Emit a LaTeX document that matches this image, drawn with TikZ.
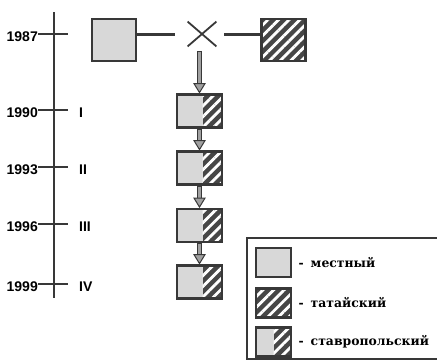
\documentclass[tikz,border=0pt]{standalone}
\usepackage{fontspec}
\setmainfont{Liberation Sans}
\newfontfamily\legfont{DejaVu Serif}
\usetikzlibrary{patterns.meta,shapes.misc,calc}
\definecolor{light}{HTML}{D8D8D8}
\definecolor{dark}{HTML}{464646}
\definecolor{bord}{HTML}{383838}
\definecolor{shaft}{HTML}{A0A0A0}
\tikzset{
  box/.style={draw=bord, line width=2.8pt, inner sep=0pt},
  mest/.style={box, fill=light},
  hatchfill/.style={pattern={Lines[angle=45,distance=7.5pt,line width=2.8pt]}, pattern color=white},
  tat/.style={box, preaction={fill=dark}, preaction={hatchfill}},
  stav/.style={box, fill=light, path picture={
      \fill[dark] ($(path picture bounding box.north)+(#1,0)$) rectangle (path picture bounding box.south east);
      \fill[hatchfill] ($(path picture bounding box.north)+(#1,0)$) rectangle (path picture bounding box.south east);}},
  stav/.default=0,
  bigbox/.style={minimum width=44pt, minimum height=42pt},
  stackbox/.style={minimum width=45pt, minimum height=33pt},
  legbox/.style={minimum width=35pt, minimum height=29pt},
  year/.style={font=\fontsize{14}{14}\selectfont\bfseries, inner sep=0pt, anchor=east},
  roman/.style={font=\fontsize{14}{14}\selectfont\bfseries, inner sep=0pt, anchor=west},
  leg/.style={font=\legfont\bfseries\fontsize{12.4}{13}\selectfont, inner sep=0pt, anchor=west},
  tline/.style={draw=bord, line width=2.8pt},
  tickline/.style={draw=bord, line width=2.8pt},
  joinline/.style={draw=bord, line width=3pt},
  shaftout/.style={draw=bord, line width=5pt},
  shaftin/.style={draw=shaft, line width=2.4pt},
  headst/.style={fill=shaft, draw=bord, line width=1pt, line join=miter},
  frame/.style={draw=bord, line width=1.5pt},
}
\newcommand\garrow[2]{%
  \draw[shaftout] (#1) -- ($(#2)+(0,-8)$);
  \draw[shaftin] ($(#1)+(0,1)$) -- ($(#2)+(0,-8)$);
  \filldraw[headst] ($(#2)+(0,-0.5)$) -- ++(-5.5,-9) -- ++(11,0) -- cycle;}
\begin{document}
\begin{tikzpicture}[x=1pt,y=-1pt]
\useasboundingbox (0,0) rectangle (437,362);
% timeline
\coordinate (ttop) at (54,12);
\coordinate (tbot) at (54,298);
\draw[tline] (ttop) -- (tbot);
\foreach \n/\yy/\lab/\rom in {87/34/1987/, 90/110/1990/I, 93/167/1993/II, 96/224/1996/III, 99/284/1999/IV}{
  \coordinate (t\n) at (54,\yy);
  \draw[tickline] ([xshift=-16pt]t\n) -- ([xshift=14pt]t\n);
  \node[year] (y\n) at ([xshift=-16pt,yshift=-2.5pt]t\n) {\lab};
  \node[roman] (r\n) at ([xshift=25pt,yshift=-2.5pt]t\n) {\rom};
}
% top row
\node[mest, bigbox] (m) at (114,40) {};
\node[tat, bigbox] (t) at (283.5,40) {};
\node[cross out, draw=bord, line width=1.8pt, minimum width=27pt, minimum height=23pt, inner sep=0pt] (x) at (202,34) {};
\draw[joinline] ([yshift=6pt]m.east) -- ([xshift=-13pt]x.west);
\draw[joinline] ([xshift=8pt]x.east) -- ([yshift=6pt]t.west);
% stack
\node[stav=3, stackbox] (b1) at (199.5,111) {};
\node[stav=3, stackbox] (b2) at (199.5,168) {};
\node[stav=3, stackbox] (b3) at (199.5,225.5) {};
\node[stav=3, stackbox] (b4) at (199.5,282) {};
\coordinate (xs) at ([yshift=-4.5pt,xshift=-2.5pt]x.south);
\garrow{xs}{b1.north}
\garrow{b1.south}{b2.north}
\garrow{b2.south}{b3.north}
\garrow{b3.south}{b4.north}
% legend
\draw[frame] (437,238) -- (247,238) -- (247,359) -- (437,359);
\node[mest, legbox] (l1) at (273.5,262.5) {};
\node[tat, legbox] (l2) at (273.5,303) {};
\node[stav, legbox] (l3) at (273.5,342) {};
\node[leg] (lt1) at ([xshift=6pt]l1.east) {-\hspace{7pt}местный};
\node[leg] (lt2) at ([xshift=6pt]l2.east) {-\hspace{7pt}татайский};
\node[leg] (lt3) at ([xshift=6pt]l3.east) {-\hspace{7pt}ставропольский};
\end{tikzpicture}
\end{document}
